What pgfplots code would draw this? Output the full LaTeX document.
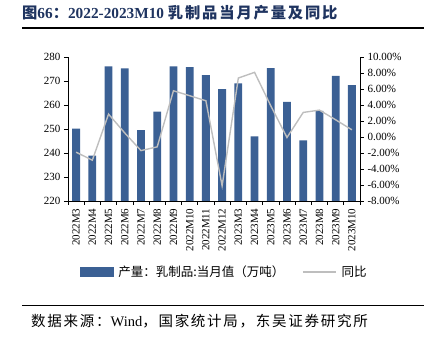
\documentclass[border=0pt]{standalone}
\usepackage{pgfplots}
\pgfplotsset{compat=1.18}
\usepackage{fontspec}
\setmainfont{Liberation Serif}
\newfontfamily\cjk{Noto Sans CJK SC}
\newfontfamily\cjkw[LetterSpace=12]{Noto Sans CJK SC}
\definecolor{barblue}{RGB}{59,96,148}
\definecolor{linegray}{RGB}{190,190,190}
\definecolor{titleblue}{RGB}{31,52,96}
\begin{document}
\begin{tikzpicture}
\useasboundingbox (0,0) rectangle (432pt,-339pt);
\node[anchor=west, text=titleblue, font=\fontsize{15.3}{17}\selectfont\bfseries, inner sep=0pt] at (22pt,-13pt) {{\cjk\bfseries 图}66{\cjk\bfseries ：}2022-2023M10 {\cjkw\bfseries 乳制品当月产量及同比}};
\draw[line width=1.3pt] (22pt,-28pt) -- (424pt,-28pt);
\draw[line width=1.1pt] (22pt,-305.5pt) -- (424pt,-305.5pt);
\node[anchor=west, font=\fontsize{14.5}{16}\selectfont, inner sep=0pt] at (31pt,-321.5pt) {{\cjkw 数据来源：}Wind{\cjkw ，国家统计局，东吴证券研究所}};
\begin{axis}[
  at={(68pt,-201pt)}, anchor=south west,
  scale only axis, width=292pt, height=144pt,
  xmin=-0.5, xmax=17.5,
  ymin=220, ymax=280, ytick={220,230,...,280},
  axis y line*=left, axis x line*=bottom,
  axis line style={black, line width=0.6pt},
  tick align=outside, major tick length=4pt,
  tick style={black, line width=0.6pt},
  xtick={-0.5,0.5,...,17.5},
  x tick label as interval,
  xticklabels={2022M3,2022M4,2022M5,2022M6,2022M7,2022M8,2022M9,2022M10,2022M11,2022M12,2023M3,2023M4,2023M5,2023M6,2023M7,2023M8,2023M9,2023M10},
  xticklabel style={rotate=90, anchor=east, font=\fontsize{11}{12}\selectfont},
  yticklabel style={font=\fontsize{11}{12}\selectfont},
  /pgf/number format/assume math mode=true,
  separate axis lines,
  legend columns=2,
  legend style={at={(0.535,-0.493)}, anchor=center, draw=none, fill=none, font=\fontsize{12.5}{13}\selectfont, /tikz/every even column/.append style={column sep=16pt}, /tikz/every odd column/.append style={column sep=3pt}},
  legend cell align=left,
]
\addlegendimage{legend image code/.code={\fill[barblue] (0pt,-4.5pt) rectangle (33pt,4.5pt);}}
\addlegendentry{{\cjk 产量：乳制品:当月值（万吨）}}
\addlegendimage{legend image code/.code={\draw[linegray, line width=1.2pt] (0pt,0pt) -- (33pt,0pt);}}
\addlegendentry{{\cjk 同比}}
\addplot[ybar, bar width=0.48, fill=barblue, draw=none, forget plot] coordinates {
(0,250.2) (1,238.9) (2,276.1) (3,275.3) (4,249.5) (5,257.2) (6,276.1) (7,275.8) (8,272.5) (9,266.6)
(10,269.0) (11,246.9) (12,275.4) (13,261.3) (14,245.3) (15,257.6) (16,272.1) (17,268.3)};
\end{axis}
\begin{axis}[
  at={(68pt,-201pt)}, anchor=south west,
  scale only axis, width=292pt, height=144pt,
  xmin=-0.5, xmax=17.5,
  ymin=-8, ymax=10, ytick={-8,-6,...,10},
  yticklabels={-8.00\%,-6.00\%,-4.00\%,-2.00\%,0.00\%,2.00\%,4.00\%,6.00\%,8.00\%,10.00\%},
  axis y line*=right, axis x line=none,
  axis line style={black, line width=0.6pt},
  tick align=outside, major tick length=4pt,
  tick style={black, line width=0.6pt},
  yticklabel style={font=\fontsize{11}{12}\selectfont},
]
\addplot[linegray, line width=1.4pt, mark=none] coordinates {
(0,-1.9) (1,-2.9) (2,2.86) (3,0.5) (4,-1.7) (5,-1.23) (6,5.78) (7,5.16) (8,4.53) (9,-6.1)
(10,7.37) (11,8.08) (12,3.9) (13,-0.06) (14,3.07) (15,3.36) (16,2.15) (17,0.9)};
\end{axis}
\end{tikzpicture}
\end{document}
